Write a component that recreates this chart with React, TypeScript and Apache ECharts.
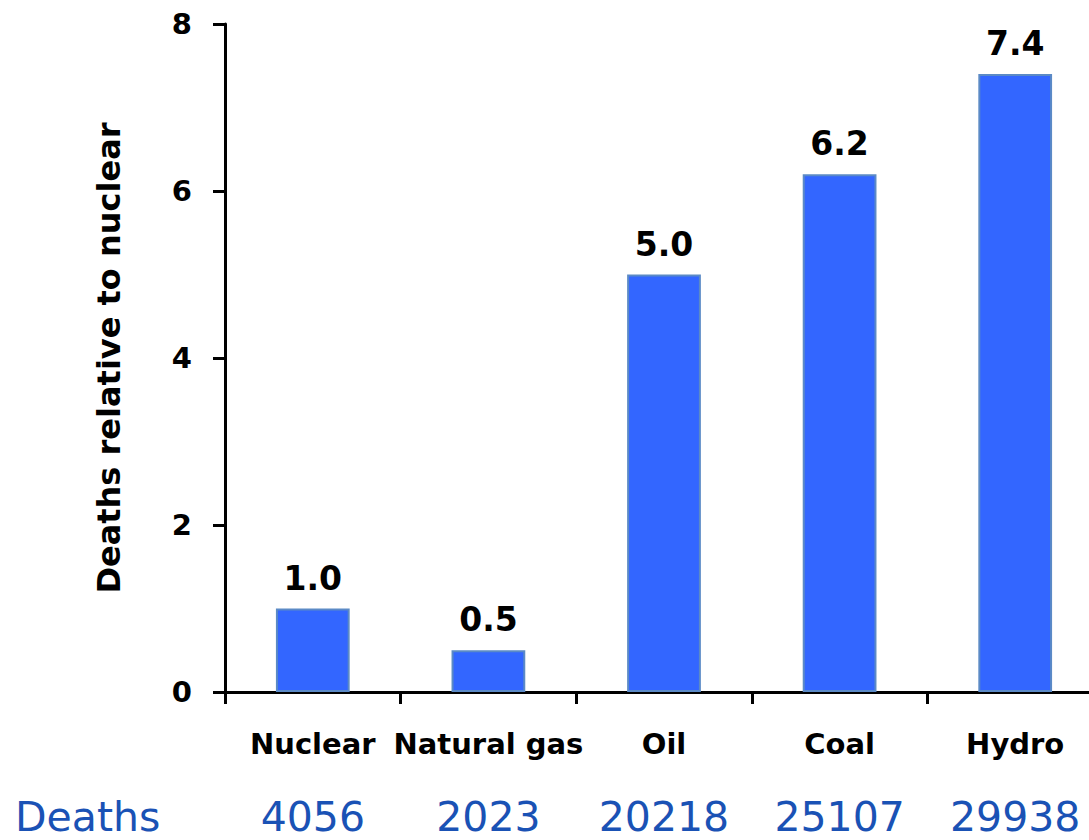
import React, { useEffect, useRef } from "react";
import * as echarts from "echarts";

// Energy sources and their death rates, relative to nuclear
const categories = ["Nuclear", "Natural gas", "Oil", "Coal", "Hydro"];
const relativeDeaths = [1.0, 0.5, 5.0, 6.2, 7.4];
const deathCounts = [4056, 2023, 20218, 25107, 29938];
const yTicks = { min: 0, max: 8, interval: 2 };

const BOLD_FONT = "DejaVu Sans";
const BLUE_TEXT = "#1a52b5";

export default function App() {
  const ref = useRef<HTMLDivElement>(null);

  useEffect(() => {
    if (!ref.current) return;
    const chart = echarts.init(ref.current, null, { renderer: "svg" });
    chart.setOption({
      animation: false,
      backgroundColor: "#ffffff",
      // the plot area runs a little past the right edge of the canvas
      grid: {
        left: 225,
        top: 24,
        width: 878,
        height: 668,
        containLabel: false,
        outerBoundsMode: "none",
      },
      xAxis: [
        {
          type: "category",
          data: categories,
          axisLine: { lineStyle: { color: "#000", width: 3 } },
          axisTick: { show: true, inside: false, length: 12, interval: 0, lineStyle: { color: "#000", width: 3 } },
          axisLabel: {
            interval: 0,
            margin: 37,
            color: "#000",
            fontFamily: BOLD_FONT,
            fontWeight: "bold",
            fontSize: 29,
          },
        },
        {
          type: "category",
          data: deathCounts.map(String),
          position: "bottom",
          axisLine: { show: false },
          axisTick: { show: false },
          axisLabel: {
            interval: 0,
            margin: 108,
            color: BLUE_TEXT,
            fontFamily: BOLD_FONT,
            fontSize: 41,
            lineHeight: 34,
          },
        },
      ],
      yAxis: {
        type: "value",
        min: yTicks.min,
        max: yTicks.max,
        interval: yTicks.interval,
        name: "Deaths relative to nuclear",
        nameLocation: "middle",
        nameGap: 100,
        nameTextStyle: {
          color: "#000",
          fontFamily: BOLD_FONT,
          fontWeight: "bold",
          fontSize: 32,
        },
        axisLine: { show: true, lineStyle: { color: "#000", width: 3 } },
        axisTick: { show: true, inside: false, length: 12, lineStyle: { color: "#000", width: 3 } },
        splitLine: { show: false },
        axisLabel: {
          margin: 33,
          color: "#000",
          fontFamily: BOLD_FONT,
          fontWeight: "bold",
          fontSize: 29,
        },
      },
      graphic: [
        {
          type: "text",
          x: 15,
          y: 817,
          style: {
            text: "Deaths",
            fill: BLUE_TEXT,
            fontFamily: BOLD_FONT,
            fontSize: 41,
            verticalAlign: "middle",
          },
        },
      ],
      series: [
        {
          type: "bar",
          xAxisIndex: 0,
          data: relativeDeaths,
          barWidth: "42%",
          itemStyle: { color: "#3366ff", borderColor: "#5b8ac6", borderWidth: 2 },
          label: {
            show: true,
            position: "top",
            distance: 14,
            formatter: (p: any) => Number(p.value).toFixed(1),
            color: "#000",
            fontFamily: BOLD_FONT,
            fontWeight: "bold",
            fontSize: 33,
          },
        },
      ],
    });
    return () => chart.dispose();
  }, []);

  return (
    <div
      ref={ref}
      style={{ position: "absolute", left: 0, top: 0, width: 1089, height: 840 }}
    />
  );
}
